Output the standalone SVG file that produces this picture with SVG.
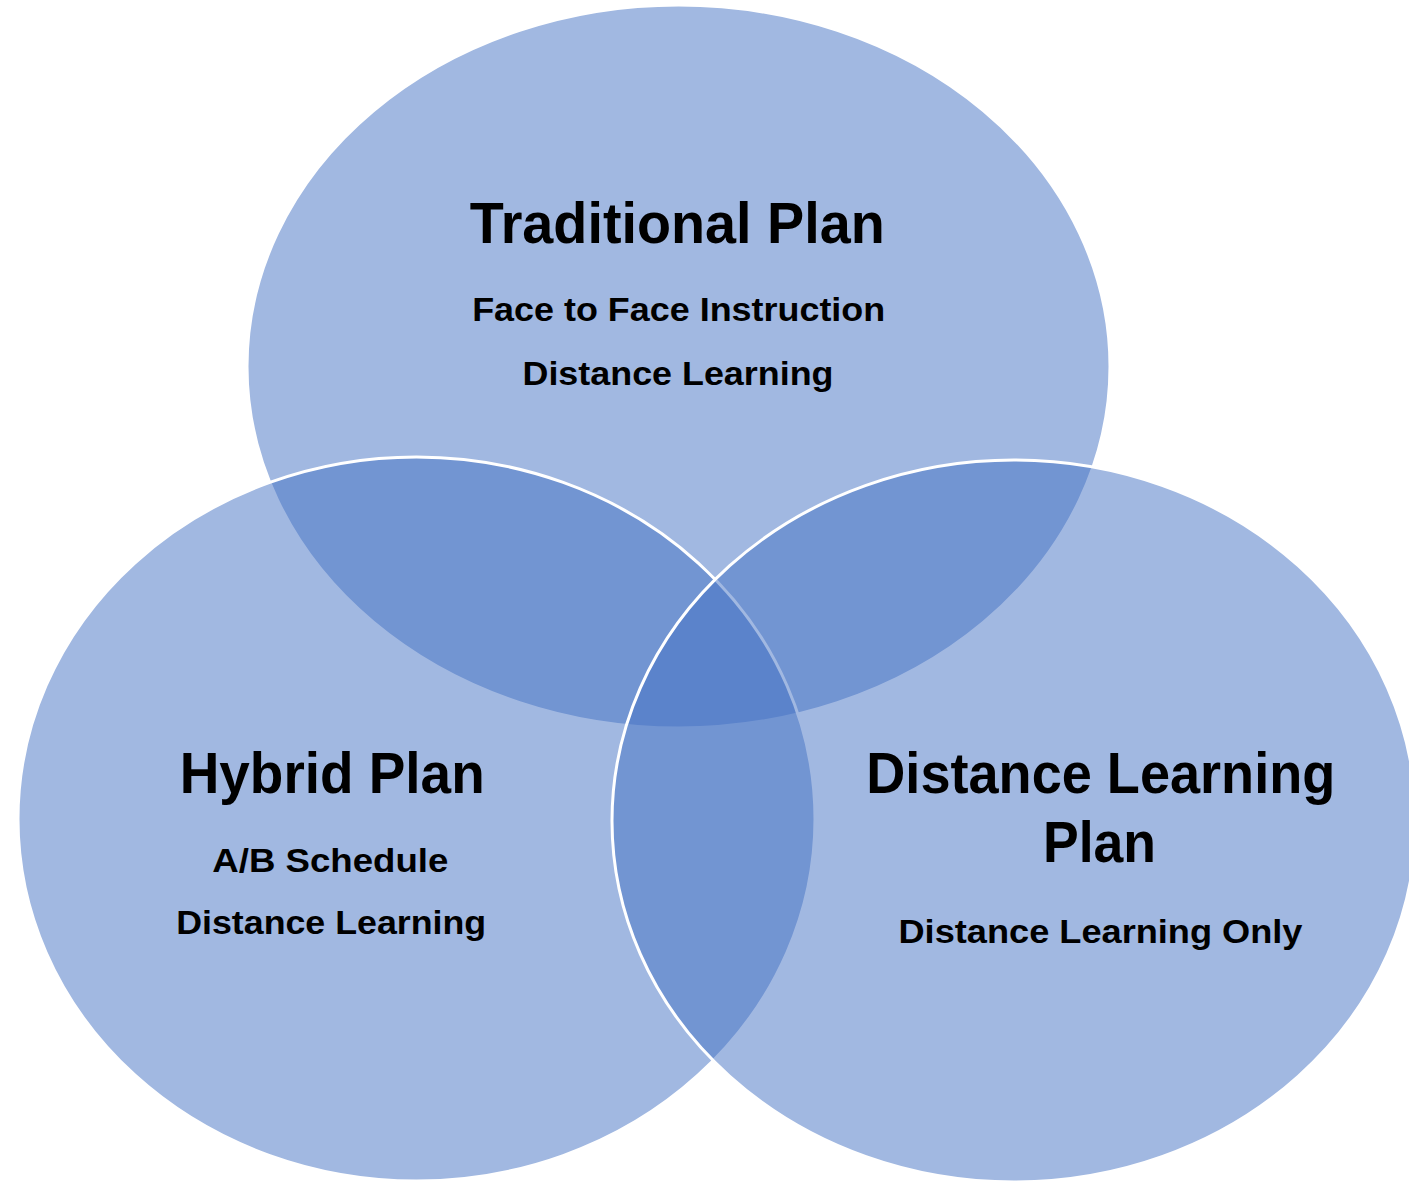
<svg xmlns="http://www.w3.org/2000/svg" width="1409" height="1182" viewBox="0 0 1409 1182">
<style>
.c{fill:#4472C4;fill-opacity:0.5;stroke:#FFFFFF;stroke-width:3}
.t{font-family:"Liberation Sans",Arial,sans-serif;font-weight:bold;fill:#000;text-anchor:middle}
.h{font-size:58px}
.s{font-size:32.5px}
</style>
<rect width="1409" height="1182" fill="#FFFFFF"/>
<g id="traditional">
<ellipse class="c" cx="678.5" cy="366.5" rx="431.5" ry="361.5"/>
</g>
<g id="hybrid">
<ellipse class="c" cx="416.5" cy="819" rx="398.5" ry="362"/>
</g>
<g id="distance">
<ellipse class="c" cx="1014" cy="821" rx="402" ry="361"/>
</g>
<g id="connectors"></g>
<g id="labels">
<text class="t h" x="677.2" y="243" textLength="415" lengthAdjust="spacingAndGlyphs">Traditional Plan</text>
<text class="t s" x="678.7" y="321" textLength="413" lengthAdjust="spacingAndGlyphs">Face to Face Instruction</text>
<text class="t s" x="678" y="385" textLength="311" lengthAdjust="spacingAndGlyphs">Distance Learning</text>
<text class="t h" x="332.2" y="793" textLength="305" lengthAdjust="spacingAndGlyphs">Hybrid Plan</text>
<text class="t s" x="330.3" y="872" textLength="236" lengthAdjust="spacingAndGlyphs">A/B Schedule</text>
<text class="t s" x="331.2" y="934" textLength="310" lengthAdjust="spacingAndGlyphs">Distance Learning</text>
<text class="t h" x="1100.8" y="793" textLength="469" lengthAdjust="spacingAndGlyphs">Distance Learning</text>
<text class="t h" x="1099.5" y="862" textLength="113" lengthAdjust="spacingAndGlyphs">Plan</text>
<text class="t s" x="1100.5" y="943" textLength="404" lengthAdjust="spacingAndGlyphs">Distance Learning Only</text>
</g>
</svg>
